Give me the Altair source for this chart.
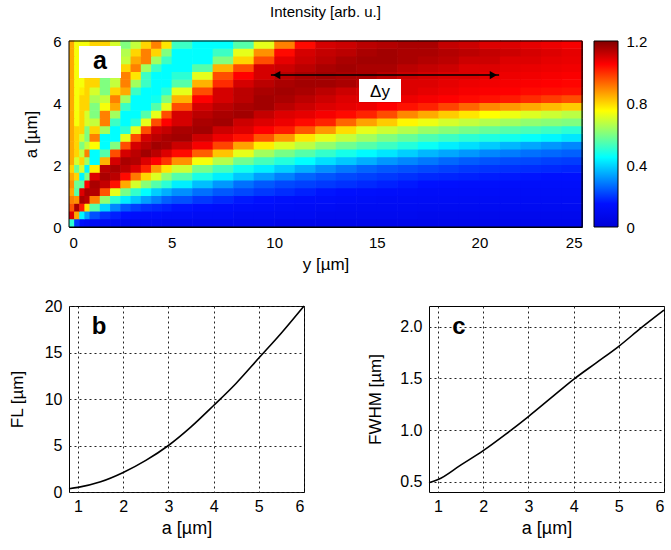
import altair as alt
import pandas as pd

FONT = "Liberation Sans"

# ---------------- panel a: intensity map ----------------
y_edges = [0, 0.25, 0.5, 0.75, 1, 1.5, 2, 2.5, 3, 3.5, 4, 4.5, 5, 6, 7, 8, 9, 10, 11, 12,
           13, 14, 15, 16, 17, 18, 19, 20, 21, 22, 23, 24, 25]
a_edges = [0, 0.25, 0.5, 0.75, 1.0, 1.25, 1.5, 1.75, 2.0, 2.25, 2.5, 2.75, 3.0, 3.25, 3.5,
           3.75, 4.0, 4.25, 4.5, 4.75, 5.0, 5.25, 5.5, 5.75, 6.0]

# one row per a-band (bottom to top), one value per y-band (left to right)
intensity = [
    [0.5, 0.2, 0.14, 0.12, 0.11, 0.1, 0.1, 0.09, 0.09, 0.09, 0.09, 0.08, 0.08, 0.08, 0.08, 0.08, 0.08, 0.07, 0.07, 0.07, 0.07, 0.07, 0.07, 0.07, 0.07, 0.07, 0.07, 0.07, 0.07, 0.07, 0.07, 0.07],
    [1.09, 0.85, 0.44, 0.33, 0.23, 0.19, 0.17, 0.15, 0.14, 0.13, 0.13, 0.12, 0.12, 0.11, 0.11, 0.1, 0.1, 0.1, 0.1, 0.09, 0.09, 0.09, 0.09, 0.09, 0.08, 0.08, 0.08, 0.08, 0.08, 0.08, 0.08, 0.08],
    [0.95, 1.15, 1.02, 0.78, 0.55, 0.4, 0.3, 0.24, 0.21, 0.19, 0.18, 0.17, 0.155, 0.145, 0.135, 0.13, 0.125, 0.12, 0.115, 0.11, 0.105, 0.105, 0.105, 0.105, 0.1, 0.1, 0.1, 0.1, 0.1, 0.1, 0.1, 0.1],
    [0.9, 0.88, 1.15, 1.13, 0.9, 0.62, 0.5, 0.43, 0.38, 0.33, 0.29, 0.25, 0.23, 0.2, 0.18, 0.16, 0.15, 0.14, 0.135, 0.13, 0.125, 0.12, 0.115, 0.115, 0.115, 0.115, 0.11, 0.11, 0.11, 0.11, 0.11, 0.11],
    [0.85, 0.55, 1.09, 1.15, 1.14, 0.95, 0.72, 0.59, 0.51, 0.45, 0.39, 0.35, 0.31, 0.27, 0.24, 0.22, 0.2, 0.185, 0.17, 0.155, 0.145, 0.14, 0.135, 0.13, 0.125, 0.125, 0.125, 0.125, 0.12, 0.12, 0.12, 0.12],
    [0.88, 0.58, 0.56, 1.05, 1.15, 1.12, 1.03, 0.85, 0.7, 0.61, 0.55, 0.5, 0.43, 0.37, 0.32, 0.27, 0.24, 0.22, 0.21, 0.2, 0.19, 0.18, 0.17, 0.16, 0.15, 0.145, 0.14, 0.14, 0.135, 0.13, 0.13, 0.13],
    [0.85, 0.8, 0.44, 0.6, 1.09, 1.15, 1.13, 1.04, 0.91, 0.8, 0.71, 0.62, 0.55, 0.48, 0.43, 0.38, 0.33, 0.29, 0.255, 0.235, 0.22, 0.21, 0.2, 0.19, 0.18, 0.175, 0.17, 0.165, 0.16, 0.155, 0.15, 0.15],
    [0.8, 0.57, 0.7, 0.44, 0.77, 1.13, 1.15, 1.13, 1.09, 1.01, 0.87, 0.78, 0.69, 0.59, 0.53, 0.47, 0.43, 0.39, 0.35, 0.31, 0.28, 0.255, 0.24, 0.23, 0.22, 0.21, 0.2, 0.195, 0.19, 0.185, 0.18, 0.175],
    [0.85, 0.7, 0.8, 0.64, 0.45, 0.84, 1.1, 1.15, 1.14, 1.09, 1.05, 0.99, 0.88, 0.74, 0.66, 0.58, 0.53, 0.49, 0.45, 0.41, 0.38, 0.35, 0.32, 0.3, 0.28, 0.26, 0.245, 0.235, 0.225, 0.22, 0.21, 0.205],
    [0.85, 0.8, 0.68, 0.9, 0.45, 0.55, 0.96, 1.1, 1.13, 1.16, 1.13, 1.09, 1.04, 0.94, 0.82, 0.72, 0.64, 0.59, 0.55, 0.51, 0.475, 0.445, 0.42, 0.39, 0.36, 0.34, 0.32, 0.3, 0.285, 0.27, 0.26, 0.25],
    [0.85, 0.8, 0.6, 0.68, 0.75, 0.45, 0.6, 0.96, 1.1, 1.13, 1.16, 1.15, 1.11, 1.06, 0.97, 0.86, 0.77, 0.71, 0.67, 0.62, 0.58, 0.55, 0.52, 0.49, 0.46, 0.43, 0.41, 0.385, 0.36, 0.34, 0.32, 0.3],
    [0.85, 0.8, 0.7, 0.6, 0.9, 0.45, 0.45, 0.72, 0.96, 1.1, 1.13, 1.15, 1.16, 1.11, 1.07, 1.03, 0.95, 0.87, 0.78, 0.72, 0.68, 0.64, 0.6, 0.57, 0.54, 0.52, 0.5, 0.485, 0.47, 0.455, 0.44, 0.42],
    [0.85, 0.8, 0.8, 0.6, 0.8, 0.64, 0.45, 0.5, 0.72, 0.96, 1.1, 1.12, 1.15, 1.16, 1.11, 1.09, 1.05, 1.02, 0.95, 0.87, 0.79, 0.72, 0.69, 0.66, 0.63, 0.61, 0.59, 0.57, 0.55, 0.535, 0.52, 0.5],
    [0.85, 0.74, 0.8, 0.7, 0.68, 0.9, 0.52, 0.45, 0.5, 0.72, 0.96, 1.05, 1.1, 1.15, 1.16, 1.11, 1.09, 1.07, 1.04, 1.01, 0.93, 0.86, 0.81, 0.76, 0.73, 0.7, 0.68, 0.66, 0.64, 0.62, 0.61, 0.6],
    [0.85, 0.74, 0.8, 0.7, 0.6, 0.9, 0.64, 0.45, 0.45, 0.55, 0.72, 0.96, 1.1, 1.13, 1.15, 1.16, 1.12, 1.09, 1.08, 1.06, 1.04, 1.01, 0.96, 0.89, 0.85, 0.81, 0.78, 0.75, 0.73, 0.71, 0.69, 0.67],
    [0.85, 0.74, 0.8, 0.8, 0.6, 0.74, 0.85, 0.52, 0.45, 0.45, 0.55, 0.72, 0.96, 1.1, 1.13, 1.15, 1.16, 1.13, 1.11, 1.09, 1.08, 1.07, 1.05, 1.03, 1.01, 0.97, 0.93, 0.89, 0.87, 0.85, 0.83, 0.81],
    [0.85, 0.74, 0.8, 0.8, 0.65, 0.68, 0.9, 0.64, 0.45, 0.45, 0.47, 0.6, 0.84, 1.05, 1.1, 1.13, 1.16, 1.15, 1.13, 1.11, 1.09, 1.09, 1.08, 1.07, 1.06, 1.05, 1.04, 1.03, 1.02, 1.0, 0.98, 0.96],
    [0.85, 0.74, 0.77, 0.8, 0.7, 0.6, 0.8, 0.85, 0.52, 0.45, 0.45, 0.5, 0.72, 0.96, 1.1, 1.13, 1.15, 1.16, 1.15, 1.13, 1.11, 1.1, 1.09, 1.09, 1.08, 1.07, 1.06, 1.055, 1.05, 1.04, 1.035, 1.03],
    [0.85, 0.74, 0.74, 0.8, 0.8, 0.6, 0.68, 0.9, 0.64, 0.52, 0.45, 0.45, 0.55, 0.84, 1.0, 1.1, 1.13, 1.15, 1.16, 1.16, 1.15, 1.13, 1.11, 1.09, 1.09, 1.08, 1.07, 1.065, 1.06, 1.055, 1.05, 1.045],
    [0.85, 0.74, 0.74, 0.8, 0.8, 0.6, 0.68, 0.9, 0.78, 0.52, 0.45, 0.45, 0.5, 0.72, 0.96, 1.05, 1.1, 1.13, 1.15, 1.16, 1.15, 1.15, 1.13, 1.11, 1.1, 1.09, 1.09, 1.08, 1.07, 1.065, 1.06, 1.055],
    [0.85, 0.74, 0.74, 0.8, 0.8, 0.6, 0.65, 0.8, 0.9, 0.64, 0.52, 0.45, 0.45, 0.55, 0.84, 0.96, 1.1, 1.11, 1.13, 1.15, 1.16, 1.15, 1.15, 1.13, 1.12, 1.11, 1.09, 1.09, 1.08, 1.075, 1.07, 1.065],
    [0.85, 0.74, 0.74, 0.77, 0.8, 0.7, 0.6, 0.68, 0.85, 0.9, 0.64, 0.52, 0.45, 0.45, 0.6, 0.8, 0.96, 1.08, 1.11, 1.13, 1.15, 1.16, 1.16, 1.15, 1.14, 1.13, 1.11, 1.11, 1.09, 1.09, 1.08, 1.075],
    [0.85, 0.74, 0.74, 0.74, 0.8, 0.8, 0.6, 0.66, 0.8, 0.9, 0.8, 0.6, 0.45, 0.45, 0.52, 0.72, 0.88, 1.04, 1.1, 1.12, 1.13, 1.15, 1.16, 1.15, 1.15, 1.14, 1.13, 1.12, 1.11, 1.1, 1.09, 1.08],
    [0.85, 0.74, 0.74, 0.74, 0.8, 0.8, 0.7, 0.6, 0.68, 0.8, 0.9, 0.78, 0.52, 0.45, 0.45, 0.55, 0.72, 0.9, 1.04, 1.1, 1.11, 1.13, 1.14, 1.15, 1.15, 1.12, 1.11, 1.09, 1.09, 1.08, 1.07, 1.06],
]

color_stops = [0, 0.15, 0.45, 0.6, 0.75, 0.9, 1.05, 1.2]
color_hex = ["#0000d8", "#0010ff", "#00ffff", "#80ff80", "#ffff00", "#ff8000", "#ff0000", "#800000"]
colorbar_ticks = [0, 0.4, 0.8, 1.2]

# annotation (double arrow "Δy")
arrow_tips_y = [9.84, 20.96]
arrow_heads_y = [10.12, 20.68]
arrow_a = 4.9

# ---------------- panels b and c ----------------
a_um = [0.8, 1, 1.5, 2, 2.5, 3, 3.5, 4, 4.5, 5, 5.5, 6]
fl_um = [0.35, 0.5, 1.1, 2.1, 3.4, 5.0, 7.0, 9.3, 11.7, 14.4, 17.1, 20.0]
fwhm_um = [0.49, 0.52, 0.66, 0.8, 0.96, 1.13, 1.31, 1.49, 1.65, 1.81, 1.99, 2.16]

# ---------------- build ----------------
recs = []
for k, row in enumerate(intensity):
    for j, v in enumerate(row):
        recs.append({"y0": y_edges[j], "y1": y_edges[j + 1],
                     "a0": a_edges[k], "a1": a_edges[k + 1], "v": v})
df_heat = pd.DataFrame(recs)

cscale = alt.Scale(domain=color_stops, range=color_hex, interpolate="rgb")

HW, HH = 513, 186
CB_X, CB_W = 525, 24   # colour bar position to the right of the map (pixels)

x_heat = alt.X("y0:Q", scale=alt.Scale(domain=[0, 25], nice=False, zero=False),
               axis=alt.Axis(values=[0, 5, 10, 15, 20, 25], title="y [µm]", grid=False,
                             labelFontSize=15, titleFontSize=17, labelPadding=8, titlePadding=6))
y_heat = alt.Y("a0:Q", scale=alt.Scale(domain=[0, 6], nice=False, zero=False),
               axis=alt.Axis(values=[0, 2, 4, 6], title="a [µm]", grid=False,
                             labelFontSize=15, titleFontSize=17, labelPadding=8, titlePadding=12))

rects = alt.Chart(df_heat).mark_rect(x2Offset=0.6, y2Offset=-0.6).encode(
    x=x_heat, x2="y1:Q", y=y_heat, y2="a1:Q",
    color=alt.Color("v:Q", scale=cscale, legend=None),
)

one = pd.DataFrame({"t": ["a"]})
frame_heat = alt.Chart(one).mark_rect(filled=False, stroke="black", strokeWidth=1).encode(
    x=alt.value(0), x2=alt.value(HW), y=alt.value(0), y2=alt.value(HH))

box_a = alt.Chart(one).mark_rect(fill="white").encode(
    x=alt.value(10), x2=alt.value(52), y=alt.value(5), y2=alt.value(37))
text_a = alt.Chart(one).mark_text(font=FONT, fontSize=25, fontWeight="bold", color="black",
                                  baseline="alphabetic", align="center").encode(
    x=alt.value(31), y=alt.value(28), text="t:N")

df_arrow = pd.DataFrame({"x": [arrow_tips_y[0]], "x2": [arrow_tips_y[1]], "a": [arrow_a]})
arrow_line = alt.Chart(df_arrow).mark_rule(color="black", strokeWidth=1.5).encode(
    x="x:Q", x2="x2:Q", y="a:Q")
df_heads = pd.DataFrame({"x": arrow_heads_y, "a": [arrow_a, arrow_a],
                         "s": ["triangle-left", "triangle-right"]})
arrow_heads = alt.Chart(df_heads).mark_point(filled=True, color="black", opacity=1, size=70).encode(
    x="x:Q", y="a:Q",
    shape=alt.Shape("s:N", scale=alt.Scale(domain=["triangle-left", "triangle-right"],
                                           range=["triangle-left", "triangle-right"]), legend=None))

box_dy = alt.Chart(one).mark_rect(fill="white").encode(
    x=alt.value(290), x2=alt.value(332), y=alt.value(38), y2=alt.value(61))
text_dy = alt.Chart(pd.DataFrame({"t": ["Δy"]})).mark_text(
    font=FONT, fontSize=17, color="black", baseline="alphabetic", align="center").encode(
    x=alt.value(311), y=alt.value(56), text="t:N")

map_layer = alt.layer(rects, frame_heat, box_a, text_a, arrow_line, arrow_heads, box_dy, text_dy)

# colour bar: one rectangle filled with the same colour stops as the map's scale
df_cbar = pd.DataFrame({"lo": [color_stops[0]], "hi": [color_stops[-1]]})
cbar_fill = alt.Gradient(
    gradient="linear", x1=0, x2=0, y1=1, y2=0,
    stops=[alt.GradientStop(offset=s / color_stops[-1], color=c) for s, c in zip(color_stops, color_hex)],
)
cbar = alt.Chart(df_cbar).mark_rect(fill=cbar_fill, stroke="black", strokeWidth=1).encode(
    x=alt.value(CB_X), x2=alt.value(CB_X + CB_W),
    y=alt.Y("lo:Q", scale=alt.Scale(domain=[color_stops[0], color_stops[-1]], nice=False, zero=False),
            axis=alt.Axis(orient="right", offset=CB_X + CB_W - HW, values=colorbar_ticks, title=None,
                          grid=False, labelFontSize=15, labelPadding=8,
                          labelExpr="datum.value == 0 ? '0' : format(datum.value, '.1f')")),
    y2="hi:Q",
)

heat = alt.layer(map_layer, cbar).resolve_scale(y="independent").properties(
    width=HW, height=HH,
    title=alt.TitleParams("Intensity [arb. u.]", font=FONT, fontSize=15, fontWeight="normal",
                          color="black", offset=14),
)

PW, PH = 235, 186
df_curves = pd.DataFrame({"a": a_um, "fl": fl_um, "fwhm": fwhm_um})

x_small = alt.X("a:Q", scale=alt.Scale(domain=[0.8, 6], nice=False, zero=False),
                axis=alt.Axis(values=[1, 2, 3, 4, 5, 6], title="a [µm]", grid=True,
                              labelFontSize=16, titleFontSize=18, labelPadding=6, titlePadding=5))

line_b = alt.Chart(df_curves).mark_line(color="black", strokeWidth=1.6, interpolate="monotone").encode(
    x=x_small,
    y=alt.Y("fl:Q", scale=alt.Scale(domain=[0, 20], nice=False),
            axis=alt.Axis(values=[0, 5, 10, 15, 20], title="FL [µm]", grid=True,
                          labelFontSize=16, titleFontSize=17, labelPadding=7, titlePadding=18)))
label_b = alt.Chart(pd.DataFrame({"t": ["b"]})).mark_text(
    font=FONT, fontSize=24, fontWeight="bold", color="black", baseline="alphabetic", align="center").encode(
    x=alt.value(30), y=alt.value(28), text="t:N")
panel_b = alt.layer(line_b, label_b).properties(width=PW, height=PH)

line_c = alt.Chart(df_curves).mark_line(color="black", strokeWidth=1.6, interpolate="monotone").encode(
    x=x_small,
    y=alt.Y("fwhm:Q", scale=alt.Scale(domain=[0.4, 2.2], nice=False, zero=False),
            axis=alt.Axis(values=[0.5, 1.0, 1.5, 2.0], format=".1f", title="FWHM [µm]", grid=True,
                          labelFontSize=16, titleFontSize=17, labelPadding=7, titlePadding=15)))
label_c = alt.Chart(pd.DataFrame({"t": ["c"]})).mark_text(
    font=FONT, fontSize=24, fontWeight="bold", color="black", baseline="alphabetic", align="center").encode(
    x=alt.value(30), y=alt.value(28), text="t:N")
panel_c = alt.layer(line_c, label_c).properties(width=PW, height=PH)

bottom = alt.hconcat(panel_b, panel_c, spacing=125, bounds="flush")

chart = alt.vconcat(heat, bottom, spacing=79, bounds="flush").resolve_scale(
    color="independent", x="independent", y="independent"
).properties(
    padding={"left": 7, "top": 4, "right": 0, "bottom": 0}
).configure_view(
    stroke="black", strokeWidth=1
).configure_axis(
    labelFont=FONT, titleFont=FONT, labelColor="black", titleColor="black",
    titleFontWeight="normal", ticks=False, domain=False,
    gridColor="#222222", gridDash=[2, 3], gridOpacity=1, gridWidth=1,
).configure_title(font=FONT, color="black")

chart.save("out.html", embed_options={"renderer": "svg", "actions": False})
